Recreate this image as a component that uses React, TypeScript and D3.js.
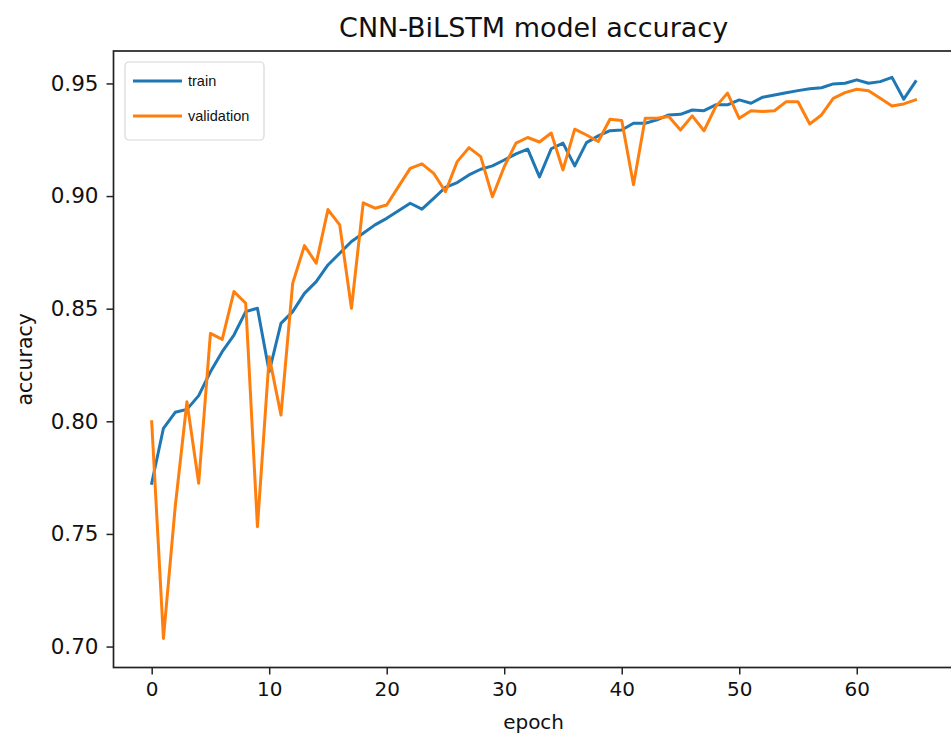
import React, { useEffect, useRef } from 'react';
import * as d3 from 'd3';

const title = 'CNN-BiLSTM model accuracy';
const xTicks = [0, 10, 20, 30, 40, 50, 60];
const yTicks = [0.7, 0.75, 0.8, 0.85, 0.9, 0.95];
const seriesNames = ['train', 'validation'];
const seriesColors = ['#1f77b4', '#ff7f0e'];

const train = [
  0.7725, 0.7969, 0.804, 0.8053, 0.8114, 0.822, 0.8309, 0.8383, 0.8487, 0.8502,
  0.822, 0.8435, 0.8487, 0.8568, 0.862, 0.8694, 0.8746, 0.8798, 0.8835, 0.8872,
  0.8901, 0.8935, 0.8968, 0.8942, 0.899, 0.9039, 0.906, 0.9094, 0.9119, 0.9134,
  0.916, 0.9187, 0.9208, 0.9085, 0.921, 0.9235, 0.9134, 0.9237, 0.9267, 0.929,
  0.9293, 0.9323, 0.9323, 0.9338, 0.936, 0.9363, 0.9382, 0.9379, 0.9405, 0.9405,
  0.9427, 0.9412, 0.9439, 0.9449, 0.9459, 0.9468, 0.9476, 0.9481, 0.9498, 0.9501,
  0.9516, 0.9501, 0.9508, 0.9527, 0.943, 0.9508,
];

const validation = [
  0.7998, 0.7036, 0.762, 0.8087, 0.7725, 0.839, 0.8364, 0.8576, 0.8524, 0.7532,
  0.8287, 0.8028, 0.8613, 0.878, 0.8702, 0.894, 0.8872, 0.8502, 0.897, 0.8946,
  0.896, 0.9042, 0.9123, 0.9143, 0.9101, 0.9019, 0.9153, 0.9215, 0.9175, 0.8997,
  0.913, 0.9235, 0.926, 0.924, 0.928, 0.9116, 0.9297, 0.9271, 0.9242, 0.9341,
  0.9335, 0.905, 0.9345, 0.9345, 0.9353, 0.9293, 0.9356, 0.929, 0.9397, 0.9457,
  0.9345, 0.9379, 0.9375, 0.9379, 0.9419, 0.9419, 0.932, 0.936, 0.9434, 0.9459,
  0.9474, 0.9468, 0.9434, 0.94, 0.9409, 0.9427,
];

export default function App() {
  const ref = useRef<SVGSVGElement>(null);

  useEffect(() => {
    const width = 951;
    const height = 742;
    const svg = d3.select(ref.current);
    svg.selectAll('*').remove();
    svg.attr('width', width).attr('height', height);

    const font = "'DejaVu Sans', sans-serif";

    // matplotlib-style 5% margins, right spine falls just off the canvas
    const x = d3.scaleLinear().domain([-3.25, 68.25]).range([113.5, 953.7]);
    const y = d3.scaleLinear().domain([0.6907, 0.9644]).range([667.5, 51]);

    svg.append('rect').attr('width', width).attr('height', height).attr('fill', '#fff');

    const line = d3
      .line<number>()
      .x((d, i) => x(i))
      .y((d) => y(d));

    [train, validation].forEach((values, k) => {
      svg
        .append('path')
        .datum(values)
        .attr('d', line)
        .attr('fill', 'none')
        .attr('stroke', seriesColors[k])
        .attr('stroke-width', 3)
        .attr('stroke-linejoin', 'round')
        .attr('stroke-linecap', 'square');
    });

    // spines
    svg
      .append('rect')
      .attr('x', x(-3.25))
      .attr('y', y(0.9644))
      .attr('width', x(68.25) - x(-3.25))
      .attr('height', y(0.6907) - y(0.9644))
      .attr('fill', 'none')
      .attr('stroke', '#222')
      .attr('stroke-width', 1.7);

    const xAxis = svg
      .append('g')
      .attr('transform', `translate(0,${y(0.6907)})`)
      .call(d3.axisBottom(x).tickValues(xTicks).tickSize(7).tickPadding(7).tickFormat(d3.format('d')));
    const yAxis = svg
      .append('g')
      .attr('transform', `translate(${x(-3.25)},0)`)
      .call(d3.axisLeft(y).tickValues(yTicks).tickSize(7).tickPadding(8).tickFormat(d3.format('.2f')));

    [xAxis, yAxis].forEach((g) => {
      g.select('.domain').remove();
      g.selectAll('line').attr('stroke', '#222').attr('stroke-width', 1.5);
      g.selectAll('text').attr('font-family', font).attr('font-size', 20).attr('fill', '#111');
    });
    yAxis.selectAll('text').attr('font-size', 21.5);

    svg
      .append('text')
      .attr('x', (x(-3.25) + x(68.25)) / 2)
      .attr('y', 37)
      .attr('text-anchor', 'middle')
      .attr('font-family', font)
      .attr('font-size', 27)
      .attr('fill', '#111')
      .text(title);

    svg
      .append('text')
      .attr('x', (x(-3.25) + x(68.25)) / 2)
      .attr('y', 729)
      .attr('text-anchor', 'middle')
      .attr('font-family', font)
      .attr('font-size', 20)
      .attr('fill', '#111')
      .text('epoch');

    svg
      .append('text')
      .attr('transform', `translate(32,${(y(0.6907) + y(0.9644)) / 2}) rotate(-90)`)
      .attr('text-anchor', 'middle')
      .attr('font-family', font)
      .attr('font-size', 20.5)
      .attr('fill', '#111')
      .text('accuracy');

    // legend
    const legend = svg.append('g').attr('transform', 'translate(125,62)');
    legend
      .append('rect')
      .attr('width', 139)
      .attr('height', 78)
      .attr('rx', 4)
      .attr('fill', '#fff')
      .attr('stroke', '#d8d8d8')
      .attr('stroke-width', 1.2);
    seriesNames.forEach((name, k) => {
      const ly = 19 + k * 35;
      legend
        .append('line')
        .attr('x1', 8)
        .attr('x2', 57)
        .attr('y1', ly)
        .attr('y2', ly)
        .attr('stroke', seriesColors[k])
        .attr('stroke-width', 3);
      legend
        .append('text')
        .attr('x', 63)
        .attr('y', ly + 5)
        .attr('font-family', "'Liberation Sans', Arial, sans-serif")
        .attr('font-size', 14.5)
        .attr('fill', '#111')
        .text(name);
    });
  }, []);

  return <svg ref={ref} style={{ position: 'absolute', left: 0, top: 0 }} />;
}
